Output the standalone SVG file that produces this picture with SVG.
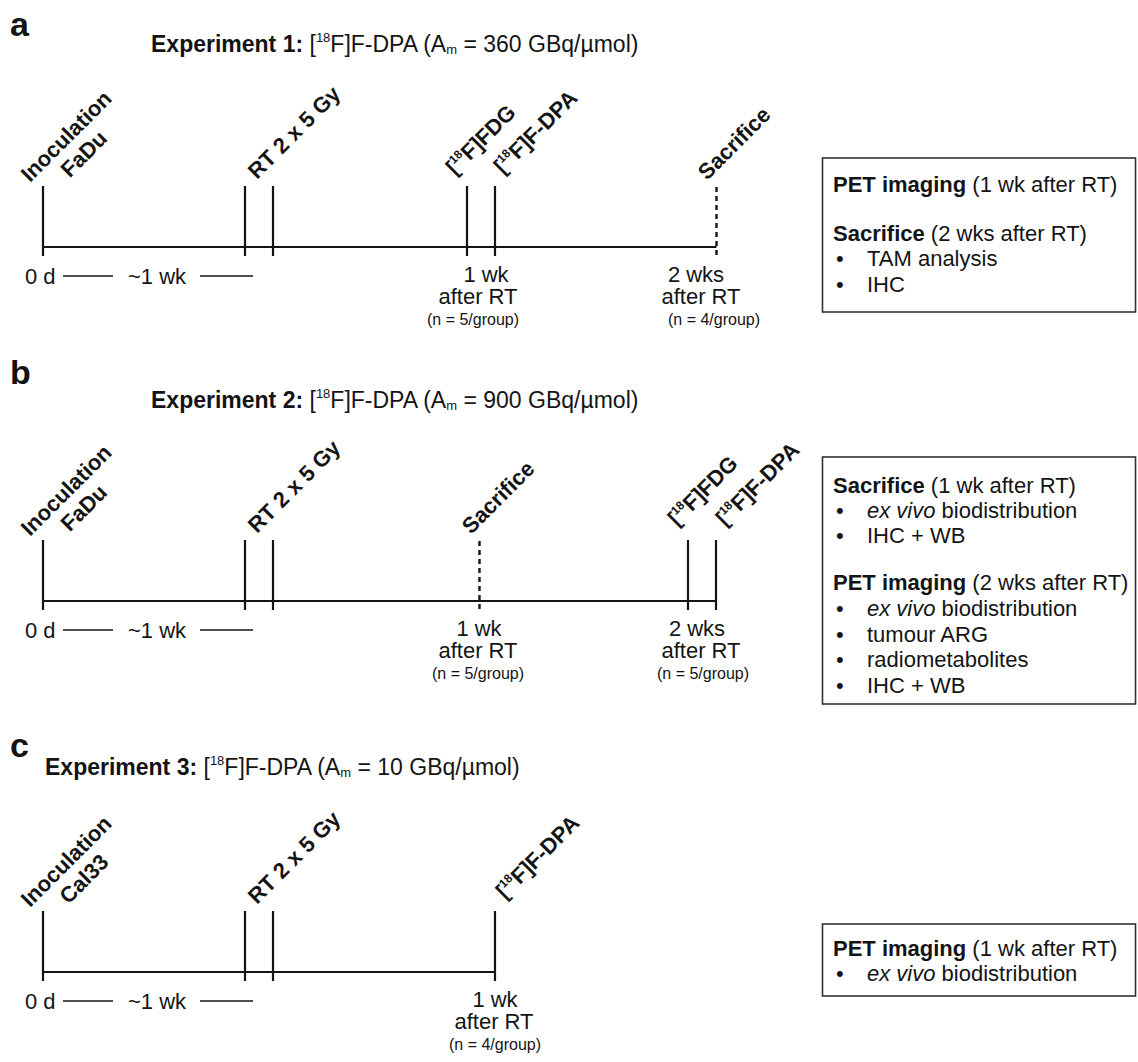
<svg xmlns="http://www.w3.org/2000/svg" width="1138" height="1062" viewBox="0 0 1138 1062">
<style>
text{font-family:"Liberation Sans",Arial,Helvetica,sans-serif;fill:#141414}
.pl{font-size:34px;font-weight:bold}
.ti{font-size:23px}
.b{font-weight:bold}
.sup{font-size:13px}
.rl{font-size:22px;font-weight:bold}
.rls{font-size:12px}
.lb{font-size:22px}
.n{font-size:16px}
.bx{font-size:22px}
.tl{stroke:#141414;stroke-width:2.2;fill:none}
.dash{stroke:#141414;stroke-width:2.4;stroke-dasharray:5 4;fill:none}
.thin{stroke:#141414;stroke-width:1.3}
.box{fill:#fff;stroke:#333;stroke-width:1.6}
</style>
<rect width="1138" height="1062" fill="#fff"/>

<!-- ===== Panel a ===== -->
<g id="panel-a-title">
<text class="pl" x="10" y="36">a</text>
<text class="ti" x="151" y="52"><tspan class="b">Experiment 1:</tspan> [<tspan class="sup" dy="-10">18</tspan><tspan dy="10">F]F-DPA (A</tspan><tspan class="sup" dy="2">m</tspan><tspan dy="-2"> = 360 GBq/µmol)</tspan></text>
</g>
<g id="a-inoculation">
<line class="tl" x1="43" y1="186" x2="43" y2="256"/>
<g transform="translate(71.5,141.5) rotate(-45)"><text class="rl" text-anchor="middle" x="0" y="0">Inoculation</text><text class="rl" text-anchor="middle" x="0" y="25">FaDu</text></g>
</g>
<g id="a-rt">
<line class="tl" x1="245" y1="186" x2="245" y2="256"/>
<line class="tl" x1="273" y1="186" x2="273" y2="256"/>
<text class="rl" transform="translate(257,180) rotate(-45)">RT 2 x 5 Gy</text>
</g>
<g id="a-fdg">
<line class="tl" x1="467" y1="186" x2="467" y2="256"/>
<text class="rl" transform="translate(455,176) rotate(-45)">[<tspan class="rls" dy="-9">18</tspan><tspan dy="9">F]FDG</tspan></text>
</g>
<g id="a-fdpa">
<line class="tl" x1="495" y1="186" x2="495" y2="256"/>
<text class="rl" transform="translate(503,175) rotate(-45)">[<tspan class="rls" dy="-9">18</tspan><tspan dy="9">F]F-DPA</tspan></text>
</g>
<g id="a-sacrifice">
<line class="dash" x1="716.5" y1="187" x2="716.5" y2="256"/>
<text class="rl" transform="translate(707,181) rotate(-45)">Sacrifice</text>
</g>
<g id="a-axis">
<line class="tl" x1="43" y1="247" x2="716.5" y2="247"/>
<text class="lb" x="25" y="284">0 d</text>
<line class="thin" x1="63" y1="276" x2="113" y2="276"/>
<text class="lb" x="128" y="284">~1 wk</text>
<line class="thin" x1="200" y1="276" x2="253" y2="276"/>
<text class="lb" text-anchor="middle" x="486" y="282">1 wk</text>
<text class="lb" text-anchor="middle" x="478" y="304">after RT</text>
<text class="n" text-anchor="middle" x="473" y="325">(n = 5/group)</text>
<text class="lb" text-anchor="middle" x="696" y="282">2 wks</text>
<text class="lb" text-anchor="middle" x="701" y="304">after RT</text>
<text class="n" text-anchor="middle" x="714" y="325">(n = 4/group)</text>
</g>
<g id="a-box">
<rect class="box" x="822.5" y="158" width="313" height="154"/>
<text class="bx" x="833" y="192"><tspan class="b">PET imaging</tspan> (1 wk after RT)</text>
<text class="bx" x="833" y="241"><tspan class="b">Sacrifice</tspan> (2 wks after RT)</text>
<text class="bx" x="836" y="266">•</text><text class="bx" x="867" y="266">TAM analysis</text>
<text class="bx" x="836" y="292">•</text><text class="bx" x="867" y="292">IHC</text>
</g>

<!-- ===== Panel b ===== -->
<g id="panel-b-title">
<text class="pl" x="10" y="384">b</text>
<text class="ti" x="151" y="408"><tspan class="b">Experiment 2:</tspan> [<tspan class="sup" dy="-10">18</tspan><tspan dy="10">F]F-DPA (A</tspan><tspan class="sup" dy="2">m</tspan><tspan dy="-2"> = 900 GBq/µmol)</tspan></text>
</g>
<g id="b-inoculation">
<line class="tl" x1="43" y1="540" x2="43" y2="610"/>
<g transform="translate(71.5,495.5) rotate(-45)"><text class="rl" text-anchor="middle" x="0" y="0">Inoculation</text><text class="rl" text-anchor="middle" x="0" y="25">FaDu</text></g>
</g>
<g id="b-rt">
<line class="tl" x1="245" y1="540" x2="245" y2="610"/>
<line class="tl" x1="273" y1="540" x2="273" y2="610"/>
<text class="rl" transform="translate(257,534) rotate(-45)">RT 2 x 5 Gy</text>
</g>
<g id="b-sacrifice">
<line class="dash" x1="479.5" y1="541" x2="479.5" y2="610"/>
<text class="rl" transform="translate(471,535) rotate(-45)">Sacrifice</text>
</g>
<g id="b-fdg">
<line class="tl" x1="688" y1="540" x2="688" y2="610"/>
<text class="rl" transform="translate(677,527) rotate(-45)">[<tspan class="rls" dy="-9">18</tspan><tspan dy="9">F]FDG</tspan></text>
</g>
<g id="b-fdpa">
<line class="tl" x1="716" y1="540" x2="716" y2="610"/>
<text class="rl" transform="translate(725,527) rotate(-45)">[<tspan class="rls" dy="-9">18</tspan><tspan dy="9">F]F-DPA</tspan></text>
</g>
<g id="b-axis">
<line class="tl" x1="43" y1="601" x2="716" y2="601"/>
<text class="lb" x="25" y="638">0 d</text>
<line class="thin" x1="63" y1="630" x2="113" y2="630"/>
<text class="lb" x="128" y="638">~1 wk</text>
<line class="thin" x1="200" y1="630" x2="253" y2="630"/>
<text class="lb" text-anchor="middle" x="479" y="636">1 wk</text>
<text class="lb" text-anchor="middle" x="478" y="658">after RT</text>
<text class="n" text-anchor="middle" x="478" y="679">(n = 5/group)</text>
<text class="lb" text-anchor="middle" x="697" y="636">2 wks</text>
<text class="lb" text-anchor="middle" x="701" y="658">after RT</text>
<text class="n" text-anchor="middle" x="703" y="679">(n = 5/group)</text>
</g>
<g id="b-box">
<rect class="box" x="822.5" y="457" width="313" height="247"/>
<text class="bx" x="833" y="493"><tspan class="b">Sacrifice</tspan> (1 wk after RT)</text>
<text class="bx" x="836" y="518">•</text><text class="bx" x="867" y="518"><tspan font-style="italic">ex vivo</tspan> biodistribution</text>
<text class="bx" x="836" y="543">•</text><text class="bx" x="867" y="543">IHC + WB</text>
<text class="bx" x="833" y="590"><tspan class="b">PET imaging</tspan> (2 wks after RT)</text>
<text class="bx" x="836" y="616">•</text><text class="bx" x="867" y="616"><tspan font-style="italic">ex vivo</tspan> biodistribution</text>
<text class="bx" x="836" y="642">•</text><text class="bx" x="867" y="642">tumour ARG</text>
<text class="bx" x="836" y="667">•</text><text class="bx" x="867" y="667">radiometabolites</text>
<text class="bx" x="836" y="693">•</text><text class="bx" x="867" y="693">IHC + WB</text>
</g>

<!-- ===== Panel c ===== -->
<g id="panel-c-title">
<text class="pl" x="10" y="757">c</text>
<text class="ti" x="45" y="775"><tspan class="b">Experiment 3:</tspan> [<tspan class="sup" dy="-10">18</tspan><tspan dy="10">F]F-DPA (A</tspan><tspan class="sup" dy="2">m</tspan><tspan dy="-2"> = 10 GBq/µmol)</tspan></text>
</g>
<g id="c-inoculation">
<line class="tl" x1="43" y1="911" x2="43" y2="981"/>
<g transform="translate(71.5,866.5) rotate(-45)"><text class="rl" text-anchor="middle" x="0" y="0">Inoculation</text><text class="rl" text-anchor="middle" x="0" y="25">Cal33</text></g>
</g>
<g id="c-rt">
<line class="tl" x1="245" y1="911" x2="245" y2="981"/>
<line class="tl" x1="273" y1="911" x2="273" y2="981"/>
<text class="rl" transform="translate(257,905) rotate(-45)">RT 2 x 5 Gy</text>
</g>
<g id="c-fdpa">
<line class="tl" x1="495" y1="911" x2="495" y2="981"/>
<text class="rl" transform="translate(505,900) rotate(-45)">[<tspan class="rls" dy="-9">18</tspan><tspan dy="9">F]F-DPA</tspan></text>
</g>
<g id="c-axis">
<line class="tl" x1="43" y1="972" x2="495" y2="972"/>
<text class="lb" x="25" y="1009">0 d</text>
<line class="thin" x1="63" y1="1001" x2="113" y2="1001"/>
<text class="lb" x="128" y="1009">~1 wk</text>
<line class="thin" x1="200" y1="1001" x2="253" y2="1001"/>
<text class="lb" text-anchor="middle" x="495" y="1007">1 wk</text>
<text class="lb" text-anchor="middle" x="494" y="1029">after RT</text>
<text class="n" text-anchor="middle" x="495" y="1050">(n = 4/group)</text>
</g>
<g id="c-box">
<rect class="box" x="822.5" y="924" width="313" height="72"/>
<text class="bx" x="833" y="956"><tspan class="b">PET imaging</tspan> (1 wk after RT)</text>
<text class="bx" x="836" y="981">•</text><text class="bx" x="867" y="981"><tspan font-style="italic">ex vivo</tspan> biodistribution</text>
</g>
</svg>
